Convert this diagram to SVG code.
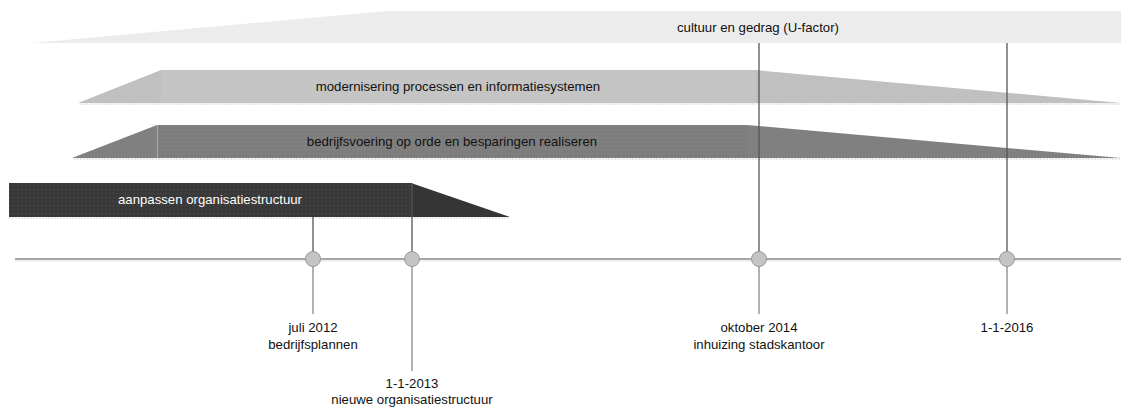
<svg xmlns="http://www.w3.org/2000/svg" width="1121" height="407" viewBox="0 0 1121 407">
<defs>
<style>
.lbl{font-family:"Liberation Sans",Arial,sans-serif;font-size:13.2px;fill:#111;text-anchor:middle}
.bandtxt{font-family:"Liberation Sans",Arial,sans-serif;font-size:13.2px;text-anchor:middle}
.vdark{stroke:#555;stroke-width:1.3}
.vlight{stroke:#888;stroke-width:1.3}
.dot{fill:#c4c4c4;stroke:#9a9a9a;stroke-width:1}
.shadow{stroke:#e2e2e2;stroke-width:1.5;stroke-dasharray:2 1}
</style>
<pattern id="tex" width="4" height="4" patternUnits="userSpaceOnUse">
<rect width="4" height="4" fill="#000" fill-opacity="0"/>
<rect x="1" y="1" width="1" height="1" fill="#fff" fill-opacity="0.12"/>
</pattern>
</defs>
<rect width="1121" height="407" fill="#fff"/>

<g id="band-cultuur">
<polygon points="32,43 387,11 1121,11 1121,43" fill="#ececec"/>
<text class="bandtxt" x="758" y="32" fill="#111">cultuur en gedrag (U-factor)</text>
</g>

<g id="band-modernisering">
<line class="shadow" x1="80" y1="104" x2="1121" y2="104"/>
<polygon points="78,103 161,70 755,70 1121,103" fill="#c0c0c0"/>
<rect x="161" y="70" width="594" height="33" fill="#c4c4c4"/>
<rect x="161" y="70" width="594" height="33" fill="url(#tex)"/>
<text class="bandtxt" x="458" y="91" fill="#111">modernisering processen en informatiesystemen</text>
</g>

<g id="band-bedrijfsvoering">
<line class="shadow" x1="74" y1="159" x2="1121" y2="159"/>
<polygon points="72,158 157,125 747,125 1121,158" fill="#808080"/>
<rect x="157" y="125" width="590" height="33" fill="#7d7d7d"/>
<rect x="157" y="125" width="590" height="33" fill="url(#tex)"/>
<line x1="157.5" y1="125" x2="157.5" y2="158" stroke="#aaa" stroke-width="1"/>
<text class="bandtxt" x="452" y="146" fill="#111">bedrijfsvoering op orde en besparingen realiseren</text>
</g>

<g id="band-aanpassen">
<line class="shadow" x1="9" y1="218" x2="510" y2="218"/>
<polygon points="9,183 411,183 510,217 9,217" fill="#353535"/>
<rect x="9" y="183" width="402" height="34" fill="#393939"/>
<rect x="9" y="183" width="402" height="34" fill="url(#tex)"/>
<text class="bandtxt" x="210" y="204" fill="#fff">aanpassen organisatiestructuur</text>
</g>

<g id="connectors">
<line x1="15" y1="259" x2="1121" y2="259" stroke="#888" stroke-width="1.5"/>
<line x1="15" y1="261" x2="1121" y2="261" stroke="#e4e4e4" stroke-width="1"/>
<line class="vdark" x1="313" y1="217" x2="313" y2="259"/>
<line class="vlight" x1="313" y1="259" x2="313" y2="314"/>
<line class="vdark" x1="412" y1="183" x2="412" y2="259"/>
<line class="vlight" x1="412" y1="259" x2="412" y2="371"/>
<line class="vdark" x1="759" y1="43" x2="759" y2="259"/>
<line class="vlight" x1="759" y1="259" x2="759" y2="314"/>
<line class="vdark" x1="1007" y1="43" x2="1007" y2="259"/>
<line class="vlight" x1="1007" y1="259" x2="1007" y2="314"/>
</g>

<g id="m-juli2012">
<circle class="dot" cx="313" cy="259" r="7.5"/>
<text class="lbl" x="313" y="332">juli 2012</text>
<text class="lbl" x="313" y="349">bedrijfsplannen</text>
</g>
<g id="m-2013">
<circle class="dot" cx="412" cy="259" r="7.5"/>
<text class="lbl" x="412" y="388">1-1-2013</text>
<text class="lbl" x="412" y="403.5">nieuwe organisatiestructuur</text>
</g>
<g id="m-okt2014">
<circle class="dot" cx="759" cy="259" r="7.5"/>
<text class="lbl" x="759" y="332">oktober 2014</text>
<text class="lbl" x="759" y="349">inhuizing stadskantoor</text>
</g>
<g id="m-2016">
<circle class="dot" cx="1007" cy="259" r="7.5"/>
<text class="lbl" x="1007" y="332">1-1-2016</text>
</g>
</svg>
